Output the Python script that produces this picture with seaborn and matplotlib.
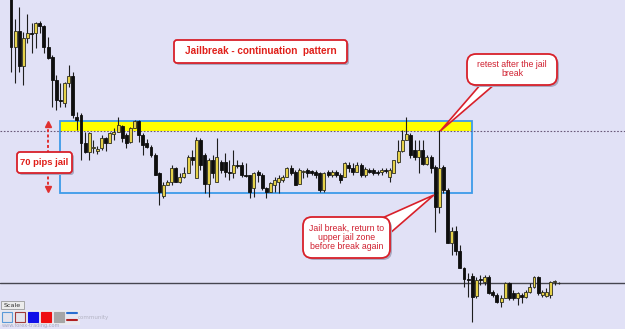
import matplotlib
matplotlib.use("Agg")
import matplotlib.pyplot as plt
import seaborn as sns
import numpy as np
import pandas as pd
from matplotlib.patches import FancyBboxPatch, Rectangle, Polygon
from matplotlib.transforms import Affine2D

# ---------------- data (price levels, JPY-style quotes) ----------------
opens = [128.34, 127.82, 127.98, 127.63, 127.91, 127.96, 127.96, 128.06, 128.03, 127.82,
         127.72, 127.49, 127.29, 127.26, 127.46, 127.53, 127.12, 127.14, 126.86, 126.77,
         126.81, 126.78, 126.81, 126.91, 126.86, 126.95, 126.97, 127.03, 126.94, 126.87,
         127.01, 127.08, 126.94, 126.86, 126.82, 126.74, 126.56, 126.33, 126.44, 126.47,
         126.61, 126.47, 126.52, 126.56, 126.72, 126.51, 126.89, 126.74, 126.45, 126.69,
         126.47, 126.67, 126.67, 126.57, 126.56, 126.64, 126.64, 126.54, 126.54, 126.41,
         126.57, 126.54, 126.41, 126.37, 126.44, 126.47, 126.49, 126.52, 126.61, 126.57,
         126.45, 126.57, 126.59, 126.58, 126.57, 126.56, 126.39, 126.57, 126.54, 126.57,
         126.54, 126.52, 126.64, 126.61, 126.57, 126.64, 126.54, 126.59, 126.59, 126.57,
         126.57, 126.59, 126.52, 126.56, 126.67, 126.78, 126.89, 126.94, 126.79, 126.72,
         126.79, 126.65, 126.72, 126.62, 126.22, 126.62, 126.39, 125.86, 125.98, 125.78,
         125.61, 125.50, 125.53, 125.33, 125.50, 125.47, 125.52, 125.37, 125.34, 125.27,
         125.31, 125.46, 125.36, 125.31, 125.34, 125.32, 125.37, 125.42, 125.52, 125.34,
         125.33, 125.34, 125.47, 125.46]

highs = [128.39, 128.10, 128.22, 127.97, 128.15, 128.06, 128.07, 128.08, 128.04, 127.92,
         127.74, 127.54, 127.46, 127.47, 127.64, 127.57, 127.17, 127.16, 126.97, 126.97,
         126.89, 126.83, 126.94, 126.92, 126.97, 127.01, 127.12, 127.04, 126.96, 127.02,
         127.09, 127.09, 126.96, 126.90, 126.84, 126.76, 126.57, 126.47, 126.49, 126.64,
         126.62, 126.56, 126.62, 126.74, 126.79, 126.92, 126.91, 126.76, 126.71, 126.74,
         126.91, 126.69, 126.76, 126.69, 126.79, 126.69, 126.67, 126.66, 126.54, 126.57,
         126.59, 126.56, 126.42, 126.47, 126.52, 126.54, 126.54, 126.62, 126.64, 126.59,
         126.61, 126.59, 126.61, 126.59, 126.59, 126.57, 126.57, 126.59, 126.59, 126.59,
         126.56, 126.67, 126.67, 126.66, 126.67, 126.66, 126.62, 126.61, 126.61, 126.59,
         126.61, 126.61, 126.61, 126.69, 126.89, 126.99, 127.12, 126.96, 126.89, 126.89,
         126.89, 126.74, 126.74, 126.64, 126.99, 126.64, 126.41, 126.02, 126.03, 125.84,
         125.62, 125.56, 125.56, 125.52, 125.54, 125.54, 125.54, 125.39, 125.36, 125.34,
         125.47, 125.47, 125.39, 125.37, 125.36, 125.39, 125.46, 125.53, 125.53, 125.39,
         125.41, 125.48, 125.49, 125.47]

lows = [127.57, 127.46, 127.57, 127.44, 127.86, 127.76, 127.81, 127.96, 127.76, 127.70,
        127.22, 127.19, 127.22, 127.22, 127.42, 127.11, 126.99, 126.69, 126.76, 126.69,
        126.76, 126.75, 126.79, 126.78, 126.86, 126.89, 126.97, 126.87, 126.81, 126.86,
        127.01, 126.87, 126.74, 126.81, 126.72, 126.54, 126.24, 126.31, 126.44, 126.44,
        126.47, 126.46, 126.51, 126.56, 126.64, 126.51, 126.59, 126.36, 126.32, 126.51,
        126.47, 126.56, 126.52, 126.49, 126.51, 126.61, 126.52, 126.52, 126.31, 126.32,
        126.47, 126.39, 126.31, 126.37, 126.37, 126.36, 126.47, 126.52, 126.54, 126.44,
        126.45, 126.51, 126.52, 126.54, 126.51, 126.37, 126.37, 126.52, 126.52, 126.52,
        126.46, 126.52, 126.57, 126.54, 126.57, 126.52, 126.52, 126.56, 126.54, 126.54,
        126.54, 126.56, 126.47, 126.56, 126.66, 126.77, 126.89, 126.71, 126.69, 126.56,
        126.64, 126.64, 126.56, 125.97, 126.16, 126.36, 125.86, 125.74, 125.74, 125.61,
        125.42, 125.32, 125.07, 125.31, 125.44, 125.44, 125.35, 125.32, 125.26, 125.22,
        125.31, 125.29, 125.29, 125.24, 125.26, 125.31, 125.36, 125.41, 125.34, 125.32,
        125.32, 125.31, 125.44, 125.45]

closes = [127.82, 127.98, 127.63, 127.91, 127.96, 127.95, 128.06, 128.03, 127.82, 127.71,
          127.49, 127.29, 127.28, 127.46, 127.53, 127.14, 127.09, 126.86, 126.77, 126.96,
          126.82, 126.80, 126.91, 126.86, 126.96, 126.97, 127.04, 126.91, 126.86, 127.01,
          127.08, 126.94, 126.84, 126.82, 126.74, 126.54, 126.37, 126.44, 126.47, 126.61,
          126.47, 126.52, 126.56, 126.72, 126.69, 126.89, 126.64, 126.45, 126.69, 126.56,
          126.72, 126.59, 126.57, 126.56, 126.64, 126.63, 126.54, 126.53, 126.37, 126.56,
          126.54, 126.41, 126.37, 126.46, 126.49, 126.51, 126.52, 126.61, 126.56, 126.44,
          126.59, 126.58, 126.56, 126.56, 126.54, 126.39, 126.56, 126.54, 126.57, 126.54,
          126.49, 126.66, 126.61, 126.57, 126.64, 126.54, 126.60, 126.57, 126.56, 126.56,
          126.59, 126.58, 126.59, 126.69, 126.78, 126.89, 126.95, 126.74, 126.72, 126.79,
          126.65, 126.72, 126.61, 126.22, 126.61, 126.39, 125.86, 125.98, 125.78, 125.61,
          125.50, 125.49, 125.32, 125.49, 125.49, 125.52, 125.36, 125.34, 125.27, 125.31,
          125.46, 125.31, 125.31, 125.36, 125.32, 125.37, 125.42, 125.52, 125.36, 125.37,
          125.37, 125.47, 125.48, 125.46]

zone_top = 127.08        # upper edge of the jail
zone_retest = 126.98     # dotted level (top of the yellow band)
zone_bottom = 126.36     # lower edge of the jail
support_level = 125.46   # solid horizontal line

title_text = "Jailbreak - continuation  pattern"
jail_text = "70 pips jail"
retest_text = "retest after the jail\nbreak"
break_text = "Jail break, return to\nupper jail zone\nbefore break again"

# ---------------- style ----------------
sns.set_theme(style="white")
plt.rcParams['font.family'] = ['DejaVu Sans']
NARROW = ['Liberation Sans Narrow', 'Liberation Sans', 'DejaVu Sans']

BG = '#E1E1F6'
RED = '#D8202A'
W, H = 625, 329

fig = plt.figure(figsize=(W / 100, H / 100), dpi=100)
fig.patch.set_facecolor(BG)
ax = fig.add_axes([0, 0, 1, 1])
ax.set_facecolor(BG)
ax.set_xlim(-2.671, 149.1)
ax.set_ylim(125.00, 128.29)
ax.set_axis_off()

# pixel coordinates measured from the top-left corner
px = Affine2D().scale(1 / W, -1 / H).translate(0, 1) + fig.transFigure


def to_px(x, y):
    d = ax.transData.transform((x, y))
    return d[0], H - d[1]


df = pd.DataFrame({'open': opens, 'high': highs, 'low': lows, 'close': closes})
df['idx'] = np.arange(len(df))
up = df['close'] >= df['open']

# jail zone
ax.add_patch(Rectangle((11.9, zone_retest), 100.05, zone_top - zone_retest,
                       facecolor='#FFFF00', edgecolor='none', zorder=1))
ax.add_patch(Rectangle((11.9, zone_bottom), 100.05, zone_top - zone_bottom,
                       facecolor='none', edgecolor='#3D9BE9', lw=1.3, zorder=2))

# reference lines
ax.axhline(zone_retest, color='#6A5A7A', lw=0.8, ls=(0, (1.5, 1.5)), zorder=2)
ax.axhline(support_level, color='#45454F', lw=1.0, zorder=2)

# candles
ax.vlines(df['idx'], df['low'], df['high'], color='#1E1E1E', lw=0.8, zorder=3)
ax.bar(df['idx'][up], (df['close'] - df['open'])[up], bottom=df['open'][up],
       width=0.72, color='#E6D24A', edgecolor='#2E2E20', linewidth=0.6, zorder=4)
ax.bar(df['idx'][~up], (df['close'] - df['open'])[~up], bottom=df['open'][~up],
       width=0.72, color='#0E0E0E', edgecolor='#0E0E0E', linewidth=0.6, zorder=4)

# 70 pips vertical arrow
ax.plot([9, 9], [zone_top - 0.03, zone_bottom + 0.04], color='#E03030', lw=1.4,
        ls=(0, (1.5, 1.2)), zorder=6)
ax.plot([9], [zone_top - 0.03], marker='^', color='#E03030', ms=5, zorder=6)
ax.plot([9], [zone_bottom + 0.04], marker='v', color='#E03030', ms=5, zorder=6)


def box(x, y, w, h, r, z=8, lw=1.3):
    ax.add_patch(FancyBboxPatch((x + 2, y + 2), w, h,
                                boxstyle=f'round,pad=0,rounding_size={r}',
                                transform=px, fc='#A9A9C2', ec='none', zorder=z - 1))
    ax.add_patch(FancyBboxPatch((x, y), w, h,
                                boxstyle=f'round,pad=0,rounding_size={r}',
                                transform=px, fc='white', ec=RED, lw=lw, zorder=z))


# title box
box(174, 40, 173, 23, 3)
ax.text(260.5, 51.5, title_text, transform=px, ha='center', va='center',
        color='#E0201A', fontsize=7.2, fontweight='bold', family=NARROW, zorder=9)

# 70 pips jail box
box(17, 152, 55, 21, 3, z=8)
ax.text(44.5, 162.5, jail_text, transform=px, ha='center', va='center',
        color='#E0201A', fontsize=6.8, fontweight='bold', family=NARROW, zorder=9)

# retest callout
tip1 = to_px(104, highs[104])
ax.add_patch(Polygon([(481, 84), (tip1[0] + 1, tip1[1] + 1), (495, 84)], closed=True,
                     transform=px, fc='white', ec=RED, lw=1.2, zorder=7))
box(467, 54, 90, 31, 9)
ax.text(512, 69, retest_text, transform=px, ha='center', va='center',
        color='#D02030', fontsize=6.3, family=NARROW, linespacing=1.1, zorder=9)

# jail break callout
tip2 = to_px(102.7, zone_bottom)
ax.add_patch(Polygon([(380, 219), (tip2[0], tip2[1] + 2), (389, 234)], closed=True,
                     transform=px, fc='white', ec=RED, lw=1.2, zorder=7))
box(303, 217, 87, 41, 9)
ax.text(346.5, 237.5, break_text, transform=px, ha='center', va='center',
        color='#D02030', fontsize=6.3, family=NARROW, linespacing=1.05, zorder=9)

# terminal toolbar remnants (bottom-left)
ax.add_patch(Rectangle((0, 310), 80, 15, transform=px, fc='#E9E9F0', ec='none', zorder=8))
ax.add_patch(Rectangle((1, 301), 23, 8, transform=px, fc='#ECECEC', ec='#9A9A9A', lw=0.6, zorder=9))
ax.text(12.5, 305.2, 'Scale', transform=px, ha='center', va='center', fontsize=4.6,
        color='#303030', zorder=10)
for x0, fc, ec in [(2, '#E4E4EC', '#5A9AD8'), (15, '#E4E4EC', '#A03A3A'),
                   (28, '#1010E8', '#1010E8'), (41, '#EE1010', '#EE1010'),
                   (54, '#A6A6A6', '#A6A6A6')]:
    ax.add_patch(Rectangle((x0, 312), 10, 10, transform=px, fc=fc, ec=ec, lw=0.8, zorder=9))
ax.plot([67, 77], [313, 313], transform=px, color='#2A70D0', lw=1.5, zorder=9)
ax.plot([67, 77], [320, 320], transform=px, color='#B02020', lw=1.5, zorder=9)
ax.text(78, 317, 'community', transform=px, ha='left', va='center', fontsize=4,
        color='#B4B4C4', zorder=9)
ax.text(2, 325.5, 'www.forex-trading.com', transform=px, ha='left', va='center',
        fontsize=3.6, color='#A8A8C0', zorder=9)

fig.savefig('out.png', dpi=100, facecolor=BG)
